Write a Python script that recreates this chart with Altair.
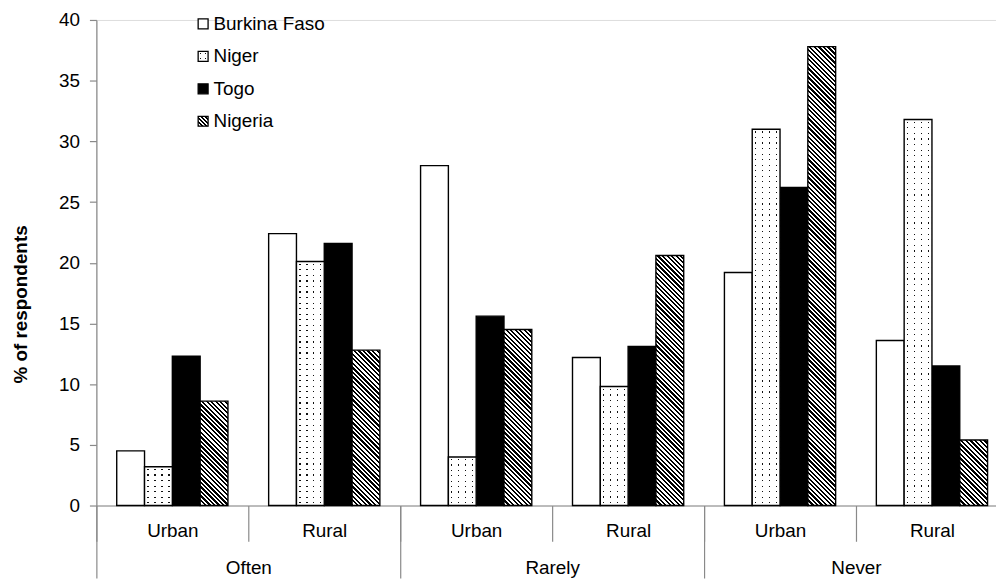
import altair as alt
import pandas as pd

# ---------------- data ----------------
frequencies = ["Often", "Rarely", "Never"]
areas = ["Urban", "Rural"]
countries = ["Burkina Faso", "Niger", "Togo", "Nigeria"]
burkina = [4.5, 22.4, 28.0, 12.2, 19.2, 13.6]
niger = [3.2, 20.1, 4.0, 9.8, 31.0, 31.8]
togo = [12.3, 21.6, 15.6, 13.1, 26.2, 11.5]
nigeria = [8.6, 12.8, 14.5, 20.6, 37.8, 5.4]
y_ticks = [0, 5, 10, 15, 20, 25, 30, 35, 40]

groups = [f + "|" + a for f in frequencies for a in areas]
series = {"Burkina Faso": burkina, "Niger": niger, "Togo": togo, "Nigeria": nigeria}
rows = []
for c in countries:
    for g, v in zip(groups, series[c]):
        rows.append({"group": g, "country": c, "value": v})
df = pd.DataFrame(rows)

# ---------------- layout ----------------
PLOT_W, PLOT_H = 906, 489
TOP = 10
XRANGE = 918
YMAX = 40
OUTER = 0.732
STEP = XRANGE / len(groups)
BAR_W = STEP / (len(countries) + 2 * OUTER)
FONT = "Liberation Sans"
AXC = "#898989"
FS = 19


def stop(o, c):
    return alt.GradientStop(offset=round(min(max(o, 0), 1), 5), color=c)


def hatch(w, h, period=4.6):
    n = max(1, round((w + h) / period))
    x2 = (w + h) * w / (h * h + w * w)
    y2 = 1 - (w + h) * h / (h * h + w * w)
    st = []
    for i in range(n):
        a, b, c = i / n, (i + 0.5) / n, (i + 1) / n
        st += [stop(a, "black"), stop(b, "black"), stop(b, "white"), stop(c, "white")]
    return alt.LinearGradient(gradient="linear", stops=st, x1=0, y1=1, x2=x2, y2=y2)


def dot_rows(h, spacing=5.6, px=1.2):
    n = max(1, round(h / spacing))
    frac = px / (h / n)
    st = []
    for i in range(n):
        a, c = i / n, (i + 1) / n
        m1 = a + (0.5 - frac / 2) / n
        m2 = a + (0.5 + frac / 2) / n
        st += [stop(a, "white"), stop(m1, "white"), stop(m1, "#111111"),
               stop(m2, "#111111"), stop(m2, "white"), stop(c, "white")]
    return alt.LinearGradient(gradient="linear", stops=st, x1=0, y1=0, x2=0, y2=1)


def dot_cols(w, spacing=7.0, px=1.3):
    n = max(1, round(w / spacing))
    frac = px / (w / n)
    clear = "rgba(255,255,255,0)"
    st = []
    for i in range(n):
        a, c = i / n, (i + 1) / n
        m1 = a + (0.5 - frac / 2) / n
        m2 = a + (0.5 + frac / 2) / n
        st += [stop(a, "white"), stop(m1, "white"), stop(m1, clear),
               stop(m2, clear), stop(m2, "white"), stop(c, "white")]
    return alt.LinearGradient(gradient="linear", stops=st, x1=0, y1=0, x2=1, y2=0)


x_enc = alt.X(
    "group:N", sort=groups,
    scale=alt.Scale(domain=groups, range=[0, XRANGE], paddingInner=0, paddingOuter=0),
    axis=alt.Axis(title=None, labelExpr="split(datum.label, '|')[1]", tickBand="extent",
                  tickSize=36, labelPadding=-11, labelBaseline="middle", labelAngle=0,
                  domainColor=AXC, tickColor=AXC, labelColor="black", labelFontSize=FS,
                  labelFont=FONT, domainWidth=1.2, tickWidth=1.2),
)
y_enc = alt.Y(
    "value:Q",
    scale=alt.Scale(domain=[0, YMAX], nice=False, zero=True),
    axis=alt.Axis(values=y_ticks, title="% of respondents", grid=False, tickSize=7,
                  labelPadding=10, domainColor=AXC, tickColor=AXC, labelColor="black",
                  labelFontSize=FS, labelFont=FONT, titleFont=FONT, titleFontSize=19,
                  titleFontWeight="bold", titleColor="black", titleAngle=270,
                  titleBaseline="middle", titleAlign="center", titleX=-76, titleY=286,
                  domainWidth=1.2, tickWidth=1.2),
)
xoff = alt.XOffset("country:N",
                   scale=alt.Scale(domain=countries, paddingInner=0, paddingOuter=OUTER))

base = alt.Chart(df).encode(x=x_enc, y=y_enc, xOffset=xoff)
SW = 1.4

bar_layers = [
    base.transform_filter("datum.country === 'Burkina Faso'").mark_bar(
        fill="white", stroke="black", strokeWidth=SW),
    base.transform_filter("datum.country === 'Togo'").mark_bar(
        fill="black", stroke="black", strokeWidth=SW),
]
for g, v in zip(groups, niger):
    h = v / YMAX * PLOT_H
    flt = f"datum.country === 'Niger' && datum.group === '{g}'"
    bar_layers.append(base.transform_filter(flt).mark_bar(fill=dot_rows(h), strokeWidth=0))
    bar_layers.append(base.transform_filter(flt).mark_bar(
        fill=dot_cols(BAR_W), stroke="black", strokeWidth=SW))
for g, v in zip(groups, nigeria):
    h = v / YMAX * PLOT_H
    flt = f"datum.country === 'Nigeria' && datum.group === '{g}'"
    bar_layers.append(base.transform_filter(flt).mark_bar(
        fill=hatch(BAR_W, h), stroke="black", strokeWidth=SW))

bars = alt.layer(*bar_layers)

freq_df = pd.DataFrame({"freq": frequencies})
freq_layer = alt.Chart(freq_df).mark_point(opacity=0).encode(
    x=alt.X("freq:N", sort=frequencies,
            scale=alt.Scale(domain=frequencies, range=[0, XRANGE], paddingInner=0, paddingOuter=0),
            axis=alt.Axis(orient="bottom", title=None, tickBand="extent", tickSize=73,
                          labelPadding=-11, labelBaseline="middle", labelAngle=0, domain=False,
                          tickColor=AXC, labelColor="black", labelFontSize=FS, labelFont=FONT,
                          tickWidth=1.2))
)

# ---------------- legend ----------------
leg_df = pd.DataFrame({"country": countries})
leg_y = alt.Y("country:N", scale=alt.Scale(domain=countries, range=[4, 102], padding=0), axis=None)
leg_base = alt.Chart(leg_df).encode(y=leg_y, x=alt.value(107.5))
SQ = 10
legend_layers = [
    leg_base.transform_filter("datum.country === 'Burkina Faso'").mark_square(
        size=SQ * SQ, fill="white", stroke="black", strokeWidth=1.3, opacity=1),
    leg_base.transform_filter("datum.country === 'Niger'").mark_square(
        size=SQ * SQ, fill=dot_rows(SQ, spacing=5.0), strokeWidth=0, opacity=1),
    leg_base.transform_filter("datum.country === 'Niger'").mark_square(
        size=SQ * SQ, fill=dot_cols(SQ, spacing=5.0), stroke="black", strokeWidth=1.3, opacity=1),
    leg_base.transform_filter("datum.country === 'Togo'").mark_square(
        size=SQ * SQ, fill="black", stroke="black", strokeWidth=1.3, opacity=1),
    leg_base.transform_filter("datum.country === 'Nigeria'").mark_square(
        size=SQ * SQ, fill=hatch(SQ, SQ, period=4.0), stroke="black", strokeWidth=1.3, opacity=1),
    alt.Chart(leg_df).mark_text(align="left", baseline="middle", fontSize=FS, font=FONT,
                                color="black").encode(y=leg_y, x=alt.value(118), text="country:N"),
]
legend = alt.layer(*legend_layers)

chart = alt.layer(bars, freq_layer, legend).resolve_scale(
    x="independent", y="independent"
).properties(
    width=PLOT_W, height=PLOT_H,
    autosize=alt.AutoSizeParams(type="none"),
    padding={"left": 89, "top": TOP, "right": 0, "bottom": 80},
).configure_view(stroke=None).configure(font=FONT)

chart.save("out.html", embed_options={"renderer": "svg", "actions": False})
